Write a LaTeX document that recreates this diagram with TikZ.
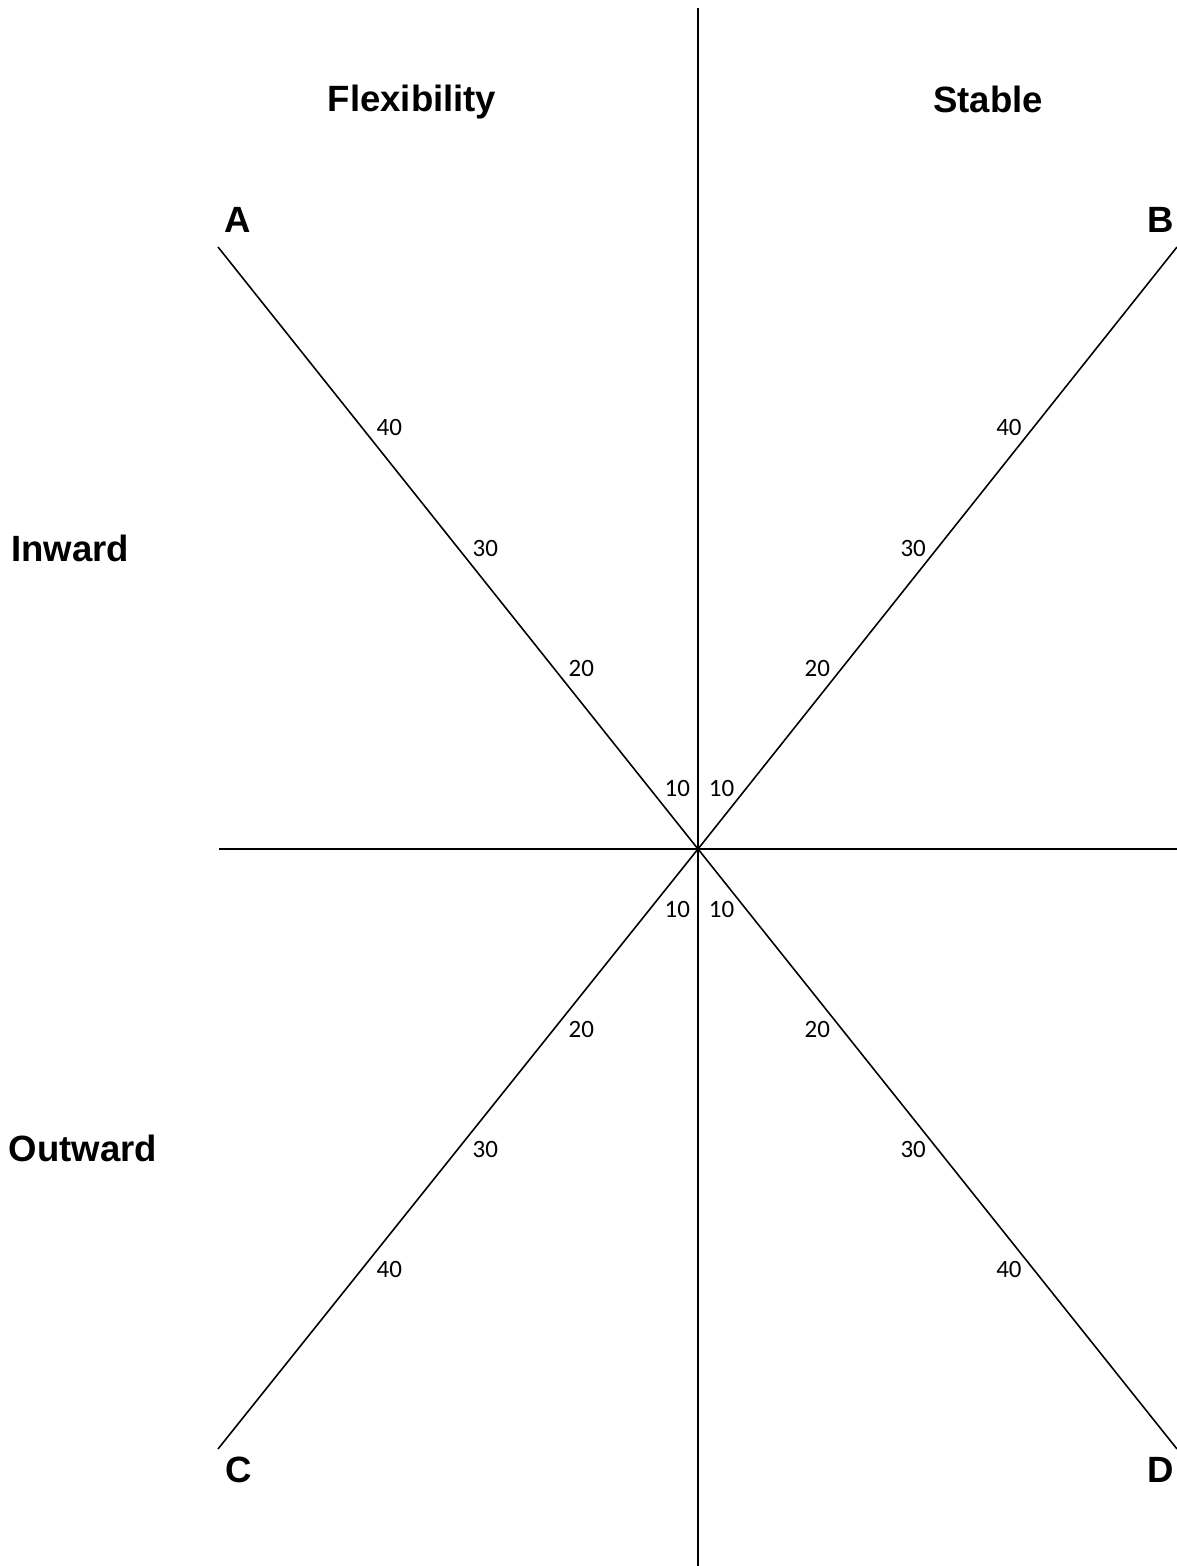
\documentclass[tikz,border=0pt]{standalone}
\usepackage{fontspec}
\setmainfont{Liberation Sans}
\newfontfamily\tickfont{Carlito}
\usetikzlibrary{calc}
\tikzset{
  axis/.style={line width=0.6pt},
  spoke/.style={line width=0.45pt},
  heading/.style={font=\fontsize{10.4}{12}\selectfont\bfseries,anchor=base,inner sep=0pt},
  tick/.style={font=\tickfont\fontsize{7.1}{8.5}\selectfont,inner sep=0pt}
}
\begin{document}
\begin{tikzpicture}
  \useasboundingbox (0,0) rectangle (11.77,15.66);
  % Axes
  \coordinate (O) at (6.98,7.17);
  \coordinate (top) at (6.98,15.58);
  \coordinate (bot) at (6.98,0);
  \coordinate (lft) at (2.19,7.17);
  \coordinate (rgt) at (11.77,7.17);
  \draw[axis] (top) -- (bot);
  \draw[axis] (lft) -- (rgt);
  % Spokes
  \coordinate (A) at (2.18,13.19);
  \coordinate (B) at (11.77,13.19);
  \coordinate (C) at (2.18,1.17);
  \coordinate (D) at (11.77,1.17);
  \foreach \e in {A,B,C,D}
    \draw[spoke] (O) -- (\e);
  % Headings
  \node[heading] (flex) at (4.12,14.54) {Flexibility};
  \node[heading] (stab) at (9.88,14.53) {Stable};
  \node[heading] (inw) at (0.70,10.04) {Inward};
  \node[heading] (outw) at (0.83,4.04) {Outward};
  % Corner letters
  \node[heading] (labA) at (2.38,13.33) {A};
  \node[heading] (labB) at (11.61,13.33) {B};
  \node[heading] (labC) at (2.39,0.83) {C};
  \node[heading] (labD) at (11.61,0.83) {D};
  % Scale marks
  \foreach \e in {A,C}
    \foreach \t/\v in {0.1/10,0.3/20,0.5/30,0.7/40}
      \node[tick,anchor=west,xshift=1.4mm] (\e\v) at ($(O)!\t!(\e)$) {\v};
  \foreach \e in {B,D}
    \foreach \t/\v in {0.1/10,0.3/20,0.5/30,0.7/40}
      \node[tick,anchor=east,xshift=-1.1mm] (\e\v) at ($(O)!\t!(\e)$) {\v};
\end{tikzpicture}
\end{document}
